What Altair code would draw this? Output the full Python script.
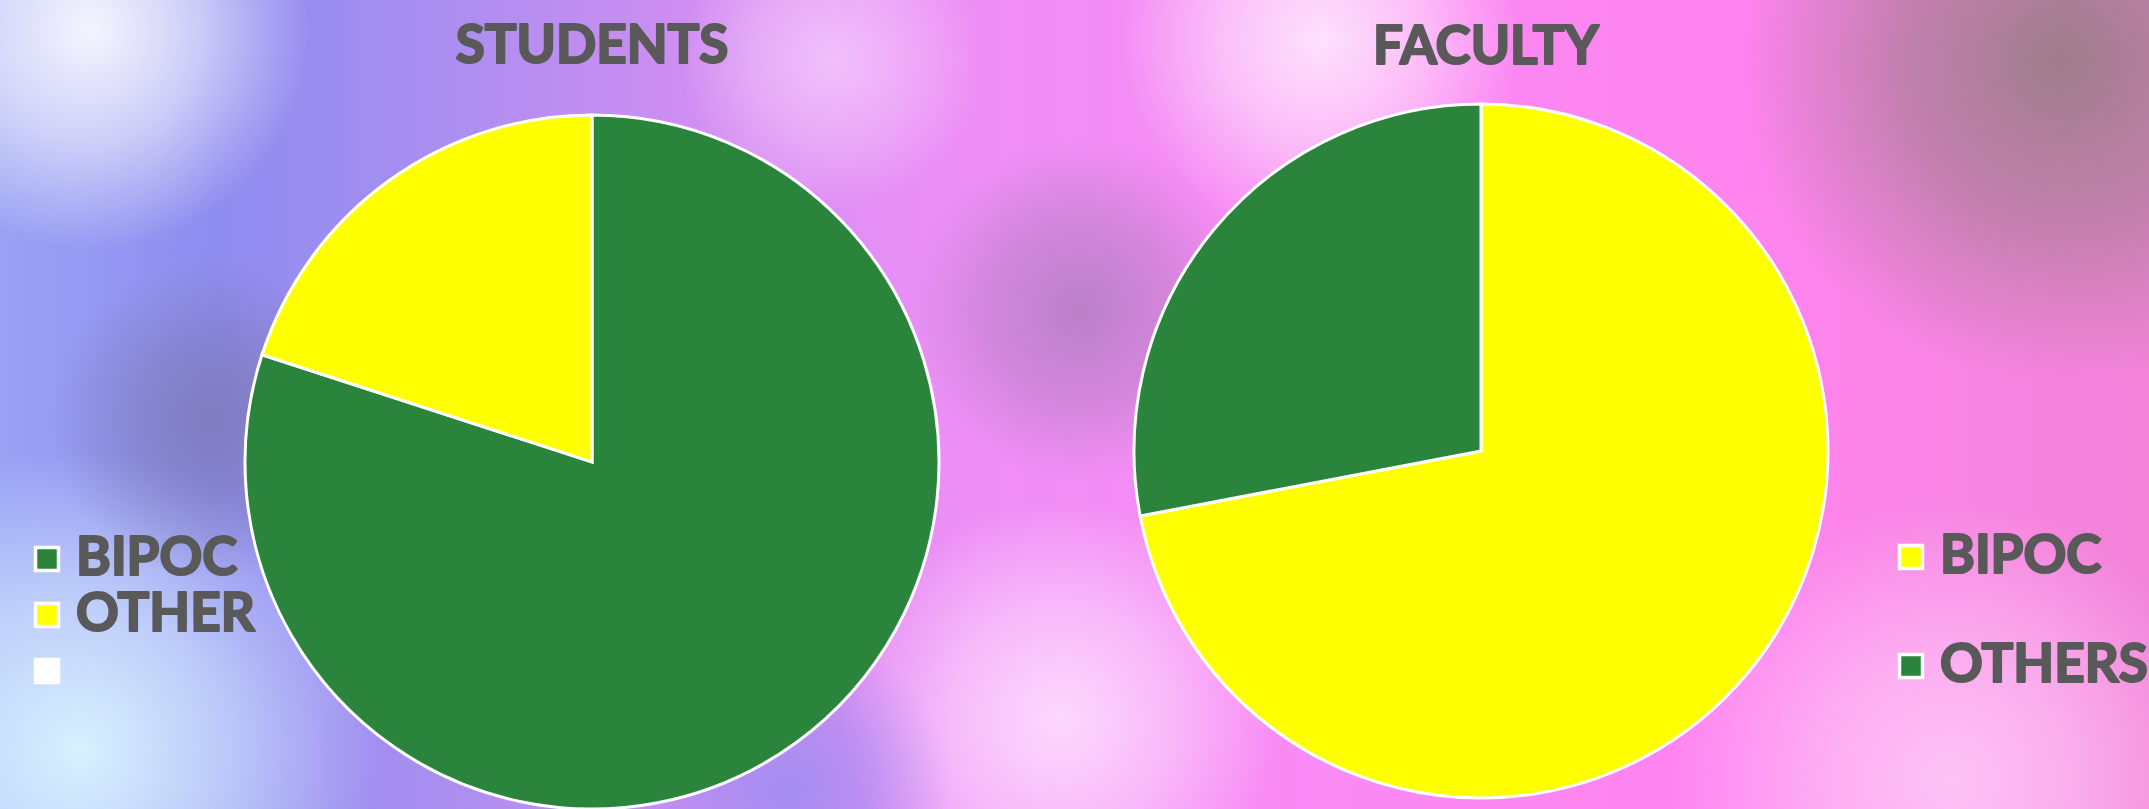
import altair as alt
import pandas as pd

W, H = 2149, 809

# ---- data ----
titles = ["STUDENTS", "FACULTY"]

student_cats = ["BIPOC", "OTHER"]
student_vals = [80, 20]
student_colors = ["#2A843C", "#FFFF00"]

faculty_cats = ["BIPOC", "OTHERS"]
faculty_vals = [72, 28]
faculty_colors = ["#FFFF00", "#2A843C"]

student_legend_labels = ["BIPOC", "OTHER", ""]
student_legend_colors = ["#2A843C", "#FFFF00", "#FFFFFF"]
faculty_legend_labels = ["BIPOC", "OTHERS"]
faculty_legend_colors = ["#FFFF00", "#2A843C"]

# ---- style ----
TEXT_COLOR = "#595959"
FONT = "Lato"

bg_stops = [
    (0.00, "#9aa2f4"), (0.10, "#8f8cf0"), (0.20, "#a88ef0"), (0.32, "#d08ef2"),
    (0.45, "#ee8ff6"), (0.60, "#f98af4"), (0.80, "#ff84f0"), (1.00, "#f283d8"),
]
# (cx, cy, r, r,g,b, alpha)
blobs = [
    (90, 30, 220, 255, 255, 255, 0.9),
    (80, 750, 300, 220, 245, 255, 0.95),
    (210, 420, 160, 120, 118, 170, 0.7),
    (2060, 60, 320, 150, 125, 130, 0.9),
    (1320, 40, 200, 255, 255, 255, 0.75),
    (1080, 310, 170, 150, 120, 170, 0.6),
    (1950, 780, 280, 255, 212, 250, 0.8),
    (1060, 720, 220, 255, 235, 255, 0.8),
    (790, 790, 160, 140, 140, 240, 0.7),
    (830, 60, 150, 255, 232, 255, 0.55),
]

one = pd.DataFrame({"a": [0]})

layers = []
layers.append(
    alt.Chart(one).mark_rect(
        color=alt.LinearGradient(
            gradient="linear", x1=0, y1=0, x2=1, y2=0,
            stops=[alt.GradientStop(offset=o, color=c) for o, c in bg_stops],
        )
    ).encode(x=alt.value(0), x2=alt.value(W), y=alt.value(0), y2=alt.value(H))
)
for cx, cy, r, R, G, B, a in blobs:
    layers.append(
        alt.Chart(one).mark_rect(
            color=alt.RadialGradient(
                gradient="radial", x1=0.5, y1=0.5, r1=0, x2=0.5, y2=0.5, r2=0.5,
                stops=[
                    alt.GradientStop(offset=0, color=f"rgba({R},{G},{B},{a})"),
                    alt.GradientStop(offset=0.5, color=f"rgba({R},{G},{B},{a*0.6:.2f})"),
                    alt.GradientStop(offset=1, color=f"rgba({R},{G},{B},0)"),
                ],
            )
        ).encode(x=alt.value(cx - r), x2=alt.value(cx + r),
                 y=alt.value(cy - r), y2=alt.value(cy + r))
    )


def pie(cats, vals, colors, cx, cy, r):
    df = pd.DataFrame({"cat": cats, "val": vals, "idx": list(range(len(cats)))})
    return alt.Chart(df).mark_arc(radius=r, stroke="white", strokeWidth=3).encode(
        theta=alt.Theta("val:Q", stack=True),
        order=alt.Order("idx:Q"),
        color=alt.Color("cat:N", scale=alt.Scale(domain=cats, range=colors), legend=None),
        x=alt.value(cx),
        y=alt.value(cy),
    )


def title(text, cx, base):
    df = pd.DataFrame({"t": [text]})
    return alt.Chart(df).mark_text(
        font=FONT, fontWeight="bold", fontSize=53, color=TEXT_COLOR,
        stroke=TEXT_COLOR, strokeWidth=2.2, strokeJoin="round",
        align="center", baseline="alphabetic",
    ).encode(text="t:N", x=alt.value(cx), y=alt.value(base))


def legend(labels, colors, sx, tx, y0, y1):
    df = pd.DataFrame({"lab": labels, "col": colors, "idx": list(range(len(labels)))})
    yenc = alt.Y("idx:Q", scale=alt.Scale(domain=[0, len(labels) - 1], range=[y0, y1]), axis=None)
    sq = alt.Chart(df).mark_square(
        size=529, stroke="white", strokeWidth=3.5, opacity=1, filled=True
    ).encode(x=alt.value(sx), y=yenc, color=alt.Color("col:N", scale=None))
    tx_ = alt.Chart(df).mark_text(
        font=FONT, fontWeight="bold", fontSize=53, color=TEXT_COLOR,
        stroke=TEXT_COLOR, strokeWidth=2.2, strokeJoin="round",
        align="left", baseline="alphabetic", dy=16,
    ).encode(x=alt.value(tx), y=yenc, text="lab:N")
    return [sq, tx_]


layers.append(pie(student_cats, student_vals, student_colors, 592, 462, 347))
layers.append(pie(faculty_cats, faculty_vals, faculty_colors, 1481, 451, 347))
layers.append(title(titles[0], 592, 63))
layers.append(title(titles[1], 1486, 64))
layers += legend(student_legend_labels, student_legend_colors, 47, 76, 559, 671)
layers += legend(faculty_legend_labels, faculty_legend_colors, 1911, 1940, 557, 666)

chart = alt.layer(*layers).resolve_scale(
    y="independent", color="independent", theta="independent"
).properties(
    width=W, height=H, padding=0, autosize="none", background="#f090f0"
).configure_view(stroke=None)

chart.save("out.html", embed_options={"renderer": "svg", "actions": False})
